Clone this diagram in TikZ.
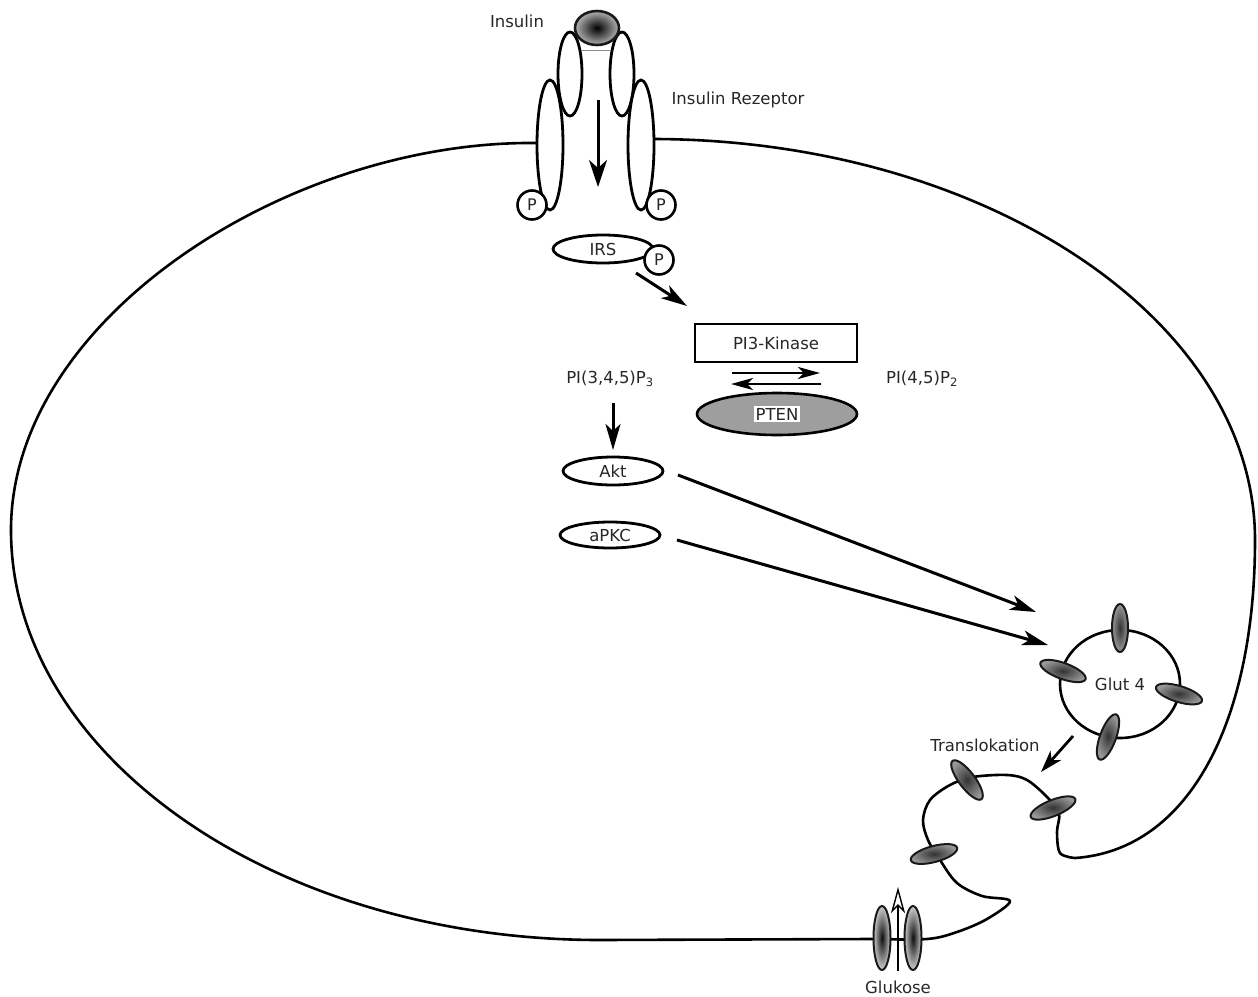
\documentclass[tikz,border=0pt]{standalone}
\usepackage{fontspec}
\setmainfont{DejaVu Sans}
\usetikzlibrary{arrows.meta,shapes.geometric}
\begin{document}
\begin{tikzpicture}[x=1pt,y=-1pt,
  lbl/.style={font=\fontsize{16.5}{19}\selectfont, text=black!85},
  mem/.style={line width=2.6pt, line join=round, line cap=round},
  recep/.style={draw, ellipse, line width=2.8pt, fill=white, inner sep=0pt},
  mol/.style={draw, ellipse, line width=2.8pt, fill=white, inner sep=0pt, minimum width=100, minimum height=28, lbl},
  phos/.style={draw, circle, line width=2.6pt, fill=white, inner sep=0pt, minimum size=29, font=\fontsize{16}{18}\selectfont, text=black!85},
  glutch/.style={draw=black!90, ellipse, line width=2pt, inner sep=0pt, minimum width=48, minimum height=16, inner color=black!80, outer color=black!40},
  chan/.style={draw=black!90, ellipse, line width=2pt, inner sep=0pt, minimum width=17, minimum height=64, inner color=black!95, outer color=black!20},
  sig/.style={line width=3pt, -{Stealth[length=26pt, width=15pt, inset=7pt]}},
  eq/.style={line width=2.8pt, -{Stealth[length=22pt, width=12pt, inset=6pt]}},
]
\useasboundingbox (0,0) rectangle (1258,996);

% receptor subunits
\node[recep, minimum width=24, minimum height=84] (recepUL) at (570,74) {};
\node[recep, minimum width=24, minimum height=84] (recepUR) at (622,74) {};
\coordinate (mL) at (537,143);
\coordinate (mR) at (654,139);

% cell membrane with the Glut 4 fusion loop
\draw[mem] (mL) .. controls (290,140) and (11,318) .. (11,530)
  .. controls (11,756) and (275,940) .. (600,940) -- (870,939)
  -- plot[smooth, tension=0.55] coordinates {
  (870,939) (927,939) (957,932) (987,919) (1010,901)
  (982,896) (957,883) (940,860) (928,840) (923,820) (930,800) (950,785)
  (973,777) (1007,775) (1027,780) (1047,797) (1059,813) (1057,832)
  (1060,853) (1075,858)}
  .. controls (1190,850) and (1255,720) .. (1255,540)
  .. controls (1255,319) and (984,140) .. (mR);

\node[recep, minimum width=26, minimum height=130] (recepLL) at (550,145) {};
\node[recep, minimum width=26, minimum height=130] (recepLR) at (641,145) {};
\draw[black!45, line width=0.8pt] (recepUL.65) -- (recepUR.115);

% insulin bound to the receptor
\node[draw=black!90, ellipse, line width=2.6pt, minimum width=44, minimum height=34,
      inner sep=0pt, inner color=black, outer color=black!30] (insulin) at (597,28) {};
\node[lbl] (insulinL) at (517,21) {Insulin};
\node[lbl] (rezL) at (738,100) {Insulin Rezeptor};

% phosphorylation sites
\node[phos] (pL) at (532,205) {P};
\node[phos] (pR) at (661,205) {P};

% receptor signal
\coordinate (r1) at (598,100);
\coordinate (r2) at (598,187);
\draw[line width=3pt, -{Stealth[length=27pt, width=18pt, inset=8pt]}] (r1) -- (r2);

% IRS
\node[mol] (irs) at (603,249) {IRS};
\node[phos] (pIRS) at (659,260) {P};
\coordinate (a1) at (636,273);
\coordinate (a2) at (687,306);
\draw[sig] (a1) -- (a2);

% PI3-Kinase / PTEN equilibrium
\node[draw, rectangle, line width=2.6pt, minimum width=162, minimum height=38, inner sep=0pt, lbl] (pi3k) at (776,343) {PI3-Kinase};
\node[draw, ellipse, line width=2.6pt, fill=black!38, minimum width=160, minimum height=42, inner sep=0pt] (pten) at (777,414) {};
\node[fill=white, inner sep=1.5pt, lbl] (ptenL) at (pten) {PTEN};
\coordinate (e1) at (732,373);
\coordinate (e2) at (820,373);
\coordinate (e3) at (821,384);
\coordinate (e4) at (731,384);
\draw[eq] (e1) -- (e2);
\draw[eq] (e3) -- (e4);
\node[lbl] (pip3) at (610,379) {PI(3,4,5)P\textsubscript{3}};
\node[lbl] (pip2) at (922,379) {PI(4,5)P\textsubscript{2}};

% kinases
\node[mol] (akt) at (613,471) {Akt};
\node[mol, minimum height=26] (apkc) at (610,535) {aPKC};
\coordinate (k1) at (613,403);
\coordinate (k2) at (613,450);
\draw[sig] (k1) -- (k2);

% Glut 4 vesicle
\node[draw, ellipse, line width=2.6pt, minimum width=120, minimum height=108, inner sep=0pt, lbl] (glut) at (1120,684) {Glut 4};
\node[glutch, rotate=90] (g1) at (1120,628) {};
\node[glutch, rotate=-20] (g2) at (1063,671) {};
\node[glutch, rotate=-17] (g3) at (1179,694) {};
\node[glutch, rotate=70] (g4) at (1108,737) {};

\coordinate (b1) at (678,475);
\coordinate (b2) at (1036,612);
\coordinate (c1) at (677,540);
\coordinate (c2) at (1048,645);
\draw[sig] (b1) -- (b2);
\draw[sig] (c1) -- (c2);

% translocation to the membrane
\node[lbl] (transL) at (985,745) {Translokation};
\coordinate (t1) at (1073,736);
\coordinate (t2) at (1041,772);
\draw[line width=2.8pt, -{Stealth[length=22pt, width=14pt, inset=6pt]}] (t1) -- (t2);

\node[glutch, rotate=-53] (m1) at (967,780) {};
\node[glutch, rotate=22] (m2) at (1053,808) {};
\node[glutch, rotate=15] (m3) at (934,854) {};

% glucose uptake channel
\node[chan] (gk1) at (882,938) {};
\node[chan] (gk2) at (913,938) {};
\coordinate (u1) at (898,971);
\coordinate (u2) at (898,887);
\draw[line width=2pt, -{Stealth[open, length=26pt, width=14pt, inset=7pt, line width=1.4pt]}] (u1) -- (u2);
\node[lbl] (glukL) at (898,987) {Glukose};

\end{tikzpicture}
\end{document}
